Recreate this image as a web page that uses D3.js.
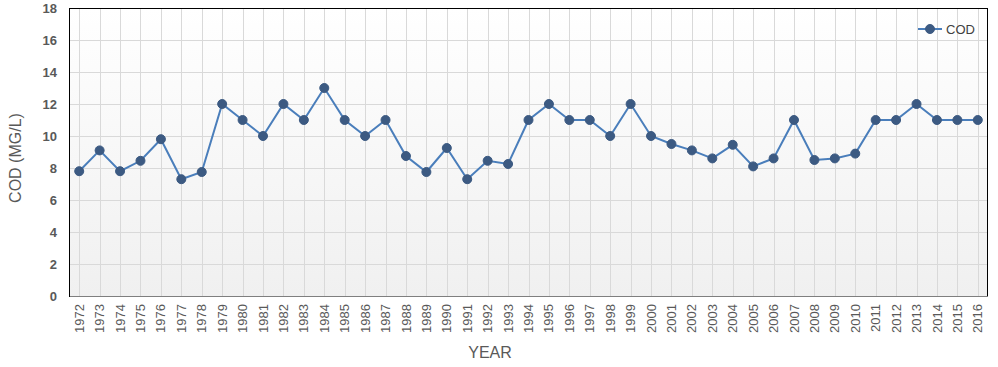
<!DOCTYPE html>
<html><head><meta charset="utf-8">
<script src="https://cdn.jsdelivr.net/npm/d3@7"></script>
<style>body{margin:0;background:#fff}svg{display:block}</style>
</head><body>
<script>
const years = ["1972","1973","1974","1975","1976","1977","1978","1979","1980","1981","1982","1983","1984","1985","1986","1987","1988","1989","1990","1991","1992","1993","1994","1995","1996","1997","1998","1999","2000","2001","2002","2003","2004","2005","2006","2007","2008","2009","2010","2011","2012","2013","2014","2015","2016"];
const cod = [7.8,9.1,7.8,8.45,9.8,7.3,7.75,12,11,10,12,11,13,11,10,11,8.75,7.75,9.25,7.3,8.45,8.25,11,12,11,11,10,12,10,9.5,9.1,8.6,9.45,8.1,8.6,11,8.5,8.6,8.9,11,11,12,11,11,11];
const yTicks = [0,2,4,6,8,10,12,14,16,18];
const seriesName = "COD";

const W=998,H=367;
const m={l:69,r:10,t:8,b:71};
const FONT="'Liberation Sans', Arial, sans-serif";
const svg=d3.select("body").append("svg").attr("width",W).attr("height",H);
const defs=svg.append("defs");
const gr=defs.append("linearGradient").attr("id","bg").attr("x1",0).attr("y1",0).attr("x2",0).attr("y2",1);
gr.append("stop").attr("offset","0%").attr("stop-color","#ffffff");
gr.append("stop").attr("offset","100%").attr("stop-color","#f0f0f0");

const x=d3.scaleBand().domain(years).range([m.l,W-m.r]);
const y=d3.scaleLinear().domain([0,18]).range([H-m.b,m.t]);
const cx=d=>x(d)+x.bandwidth()/2;

svg.append("rect").attr("x",m.l).attr("y",m.t).attr("width",W-m.r-m.l).attr("height",H-m.b-m.t).attr("fill","url(#bg)");

// grid
svg.append("g").selectAll("line").data(yTicks.slice(1,-1)).join("line")
 .attr("x1",m.l).attr("x2",W-m.r).attr("y1",d=>y(d)).attr("y2",d=>y(d))
 .attr("stroke","#d9d9d9").attr("stroke-width",1).attr("shape-rendering","crispEdges");
svg.append("g").selectAll("line").data(years).join("line")
 .attr("x1",d=>Math.round(cx(d))+0.5).attr("x2",d=>Math.round(cx(d))+0.5).attr("y1",m.t).attr("y2",H-m.b)
 .attr("stroke","#d9d9d9").attr("stroke-width",1);

// border
svg.append("line").attr("x1",m.l).attr("x2",W-m.r).attr("y1",m.t+0.5).attr("y2",m.t+0.5).attr("stroke","#000");
svg.append("line").attr("x1",W-m.r-0.5).attr("x2",W-m.r-0.5).attr("y1",m.t).attr("y2",H-m.b).attr("stroke","#000");
svg.append("line").attr("x1",m.l).attr("x2",W-m.r).attr("y1",H-m.b+0.5).attr("y2",H-m.b+0.5).attr("stroke","#7f7f7f");
svg.append("line").attr("x1",m.l+0.5).attr("x2",m.l+0.5).attr("y1",m.t).attr("y2",H-m.b+1).attr("stroke","#000");

// y axis labels
const ya=svg.append("g").attr("transform",`translate(${m.l},0)`).call(d3.axisLeft(y).tickValues(yTicks).tickSize(0).tickPadding(12));
ya.select(".domain").remove();
ya.selectAll("text").attr("font-family",FONT).attr("font-size",13).attr("font-weight","bold").attr("fill","#595959");

// x axis labels
const xa=svg.append("g").attr("transform",`translate(0,${H-m.b})`).call(d3.axisBottom(x).tickSize(0));
xa.select(".domain").remove();
xa.selectAll("text").attr("font-family",FONT).attr("font-size",13).attr("fill","#595959")
 .attr("text-anchor","end").attr("dx","-8").attr("dy","0.35em").attr("x",0).attr("y",0)
 .attr("transform","rotate(-90)");

// titles
svg.append("text").attr("x",490).attr("y",358).attr("text-anchor","middle")
 .attr("font-family",FONT).attr("font-size",16).attr("fill","#595959").text("YEAR");
svg.append("text").attr("transform",`translate(21,158) rotate(-90)`).attr("text-anchor","middle")
 .attr("font-family",FONT).attr("font-size",16).attr("fill","#595959").text("COD (MG/L)");

// line
const line=d3.line().x((d,i)=>cx(years[i])).y(d=>y(d));
svg.append("path").datum(cod).attr("d",line).attr("fill","none").attr("stroke","#4a7ebb").attr("stroke-width",2);
svg.append("g").selectAll("circle").data(cod).join("circle")
 .attr("cx",(d,i)=>cx(years[i])).attr("cy",d=>y(d)).attr("r",4.5)
 .attr("fill","#3c5a82").attr("stroke","#3c5a82").attr("stroke-width",1);

// legend
const lg=svg.append("g").attr("transform","translate(918,29)");
lg.append("line").attr("x1",0).attr("x2",24).attr("y1",0).attr("y2",0).attr("stroke","#4a7ebb").attr("stroke-width",2);
lg.append("circle").attr("cx",12).attr("cy",0).attr("r",4.5).attr("fill","#3c5a82").attr("stroke","#3c5a82");
lg.append("text").attr("x",28).attr("y",0).attr("dy","0.35em").attr("font-family",FONT).attr("font-size",13).attr("fill","#404040").text(seriesName);
</script>
</body></html>
